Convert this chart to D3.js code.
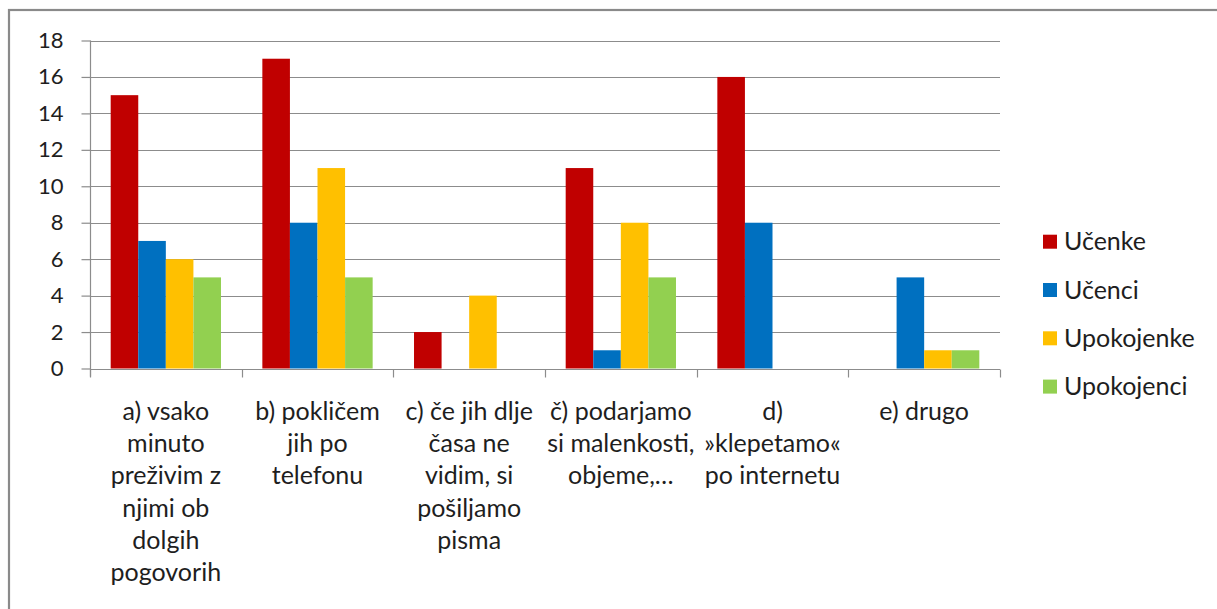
<!DOCTYPE html>
<html>
<head>
<meta charset="utf-8">
<script src="https://cdn.jsdelivr.net/npm/d3@7"></script>
<style>
  html, body { margin: 0; padding: 0; background: #fff; }
  svg text { font-family: Lato, "Open Sans", sans-serif; fill: #1e1e1e; }
</style>
</head>
<body>
<svg id="chart" width="1217" height="609"></svg>
<script>
const categories = ["a", "b", "c", "č", "d", "e"];
const categoryLabels = [
  ["a) vsako", "minuto", "preživim z", "njimi ob", "dolgih", "pogovorih"],
  ["b) pokličem", "jih po", "telefonu"],
  ["c) če jih dlje", "časa ne", "vidim, si", "pošiljamo", "pisma"],
  ["č) podarjamo", "si malenkosti,", "objeme,…"],
  ["d)", "»klepetamo«", "po internetu"],
  ["e) drugo"]
];
const seriesNames = ["Učenke", "Učenci", "Upokojenke", "Upokojenci"];
const ucenke     = [15, 17, 2, 11, 16, 0];
const ucenci     = [7, 8, 0, 1, 8, 5];
const upokojenke = [6, 11, 4, 8, 0, 1];
const upokojenci = [5, 5, 0, 5, 0, 1];
const yTicks = [0, 2, 4, 6, 8, 10, 12, 14, 16, 18];
const colors = ["#C00000", "#0070C0", "#FFC000", "#92D050"];

const seriesValues = [ucenke, ucenci, upokojenke, upokojenci];

const svg = d3.select("#chart");

// outer frame
svg.append("rect")
  .attr("x", 9).attr("y", 10)
  .attr("width", 1300).attr("height", 700)
  .attr("fill", "none").attr("stroke", "#8a8a8a").attr("stroke-width", 2.2);

const plotLeft = 90, plotRight = 1000, plotTop = 40.5, plotBottom = 368.5;

const x0 = d3.scaleBand().domain(categories).range([plotLeft, plotRight]).padding(0);
const x1 = d3.scaleBand().domain(seriesNames).range([0, x0.bandwidth()])
  .paddingInner(0).paddingOuter(0.75);
const y = d3.scaleLinear().domain([0, 18]).range([plotBottom, plotTop]);

// gridlines
svg.append("g").selectAll("line").data(yTicks.filter(d => d > 0)).join("line")
  .attr("x1", plotLeft).attr("x2", plotRight)
  .attr("y1", d => Math.round(y(d)) + 0.5).attr("y2", d => Math.round(y(d)) + 0.5)
  .attr("stroke", "#8c8c8c").attr("stroke-width", 1.2);

// bars
const groups = svg.append("g").selectAll("g").data(categories).join("g")
  .attr("transform", d => `translate(${x0(d)},0)`);
groups.selectAll("rect")
  .data((c, ci) => seriesNames.map((s, si) => ({ s, si, v: seriesValues[si][ci] })))
  .join("rect")
  .attr("x", d => x1(d.s))
  .attr("width", x1.bandwidth())
  .attr("y", d => y(d.v))
  .attr("height", d => y(0) - y(d.v))
  .attr("fill", d => colors[d.si]);

// y axis
const yAxis = svg.append("g")
  .attr("transform", `translate(${plotLeft + 0.5},0)`)
  .call(d3.axisLeft(y).tickValues(yTicks).tickSize(9).tickPadding(18).tickSizeOuter(0));
yAxis.select(".domain").attr("stroke", "#8c8c8c").attr("stroke-width", 1.2)
  .attr("d", `M0,${plotTop}V${plotBottom + 8}`);
yAxis.selectAll(".tick line").attr("stroke", "#8c8c8c").attr("stroke-width", 1.2);
yAxis.selectAll(".tick text").attr("font-size", 22).attr("fill", "#1e1e1e")
  .style("font-family", "Lato, 'Open Sans', sans-serif");

// x axis
const xAxisG = svg.append("g").attr("transform", `translate(0,${Math.round(plotBottom) + 0.5})`);
xAxisG.append("line").attr("x1", plotLeft).attr("x2", plotRight)
  .attr("stroke", "#8c8c8c").attr("stroke-width", 1.2);
const boundaries = categories.map(c => x0(c)).concat([x0(categories[categories.length - 1]) + x0.bandwidth()]);
xAxisG.selectAll("line.tk").data(boundaries).join("line").attr("class", "tk")
  .attr("x1", d => Math.round(d) + 0.5).attr("x2", d => Math.round(d) + 0.5)
  .attr("y1", 0).attr("y2", 8)
  .attr("stroke", "#8c8c8c").attr("stroke-width", 1.2);

// category labels
const lblG = svg.append("g");
categories.forEach((c, i) => {
  const t = lblG.append("text")
    .attr("x", x0(c) + x0.bandwidth() / 2)
    .attr("y", 420)
    .attr("text-anchor", "middle")
    .attr("font-size", 25);
  categoryLabels[i].forEach((line, li) => {
    t.append("tspan").attr("x", x0(c) + x0.bandwidth() / 2)
      .attr("y", 420 + li * 32.2).text(line);
  });
});

// legend
const legend = svg.append("g");
seriesNames.forEach((s, i) => {
  const cy = 241.7 + i * 48.3;
  legend.append("rect").attr("x", 1043).attr("y", cy - 7).attr("width", 14).attr("height", 14)
    .attr("fill", colors[i]);
  legend.append("text").attr("x", 1064).attr("y", cy).attr("dy", "0.35em")
    .attr("font-size", 25).text(s);
});
</script>
</body>
</html>
